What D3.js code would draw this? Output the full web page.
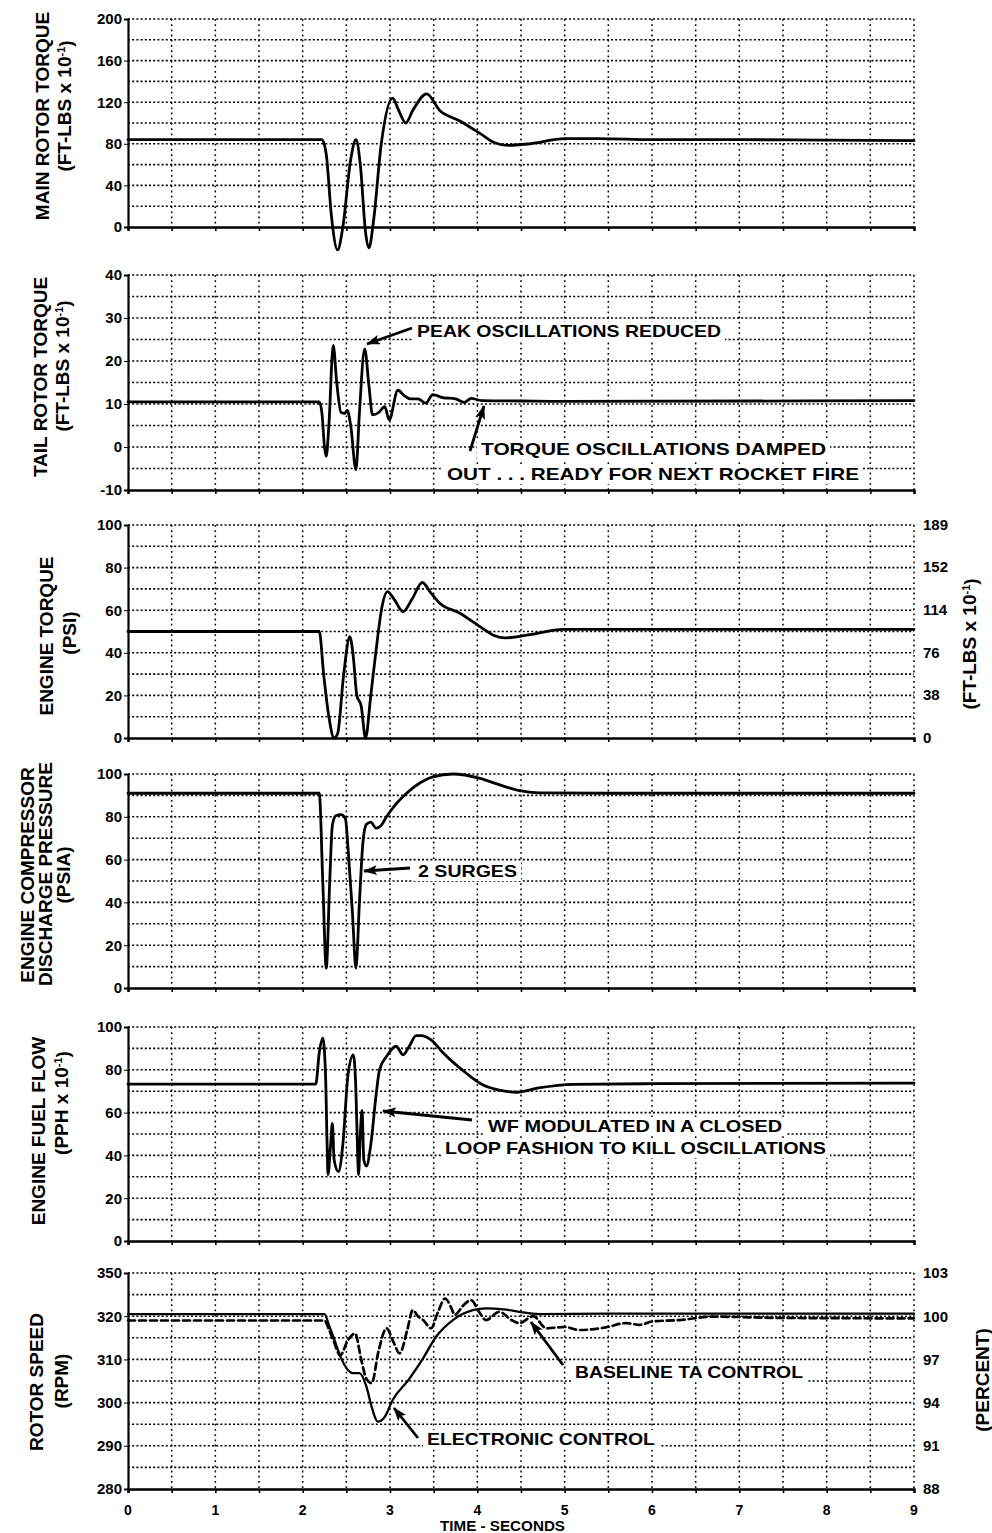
<!DOCTYPE html>
<html><head><meta charset="utf-8">
<script src="https://cdn.jsdelivr.net/npm/d3@7"></script>
<style>
body{margin:0;background:#fff}
svg{display:block}
text{font-family:"Liberation Sans",Arial,Helvetica,sans-serif;font-weight:bold;fill:#000}
</style>
</head><body>
<svg id="chart" width="992" height="1533"></svg>
<script>
// ---------------- DATA ----------------
const timeTicks = [0,1,2,3,4,5,6,7,8,9];
const timeTickLabels = ["0","1","2","3","4","5","6","7","8","9"];

// Panel 1 : main rotor torque
const mainRotorTime   = [0,2.22,2.27,2.33,2.40,2.46,2.55,2.61,2.66,2.72,2.76,2.81,2.90,3.03,3.10,3.18,3.26,3.42,3.57,3.80,4.03,4.20,4.35,4.60,5.00,5.40,6.00,7.00,8.00,9.00];
const mainRotorTorque = [84,84,70,10,-22,0,65,84,60,-5,-20,5,80,124,112,100,112,128,112,102,90,81,78.5,80,85,85,84,84,83.5,83];
const mainRotorTicks  = [0,40,80,120,160,200];

// Panel 2 : tail rotor torque
const tailRotorTime   = [0,2.19,2.22,2.25,2.27,2.30,2.35,2.39,2.44,2.48,2.51,2.55,2.61,2.65,2.71,2.76,2.80,2.87,2.94,2.99,3.09,3.16,3.23,3.32,3.41,3.49,3.60,3.75,3.85,3.93,4.05,4.50,5.00,9.00];
const tailRotorTorque = [10.5,10.5,8,0,-2.2,5,23.6,15,8,7.8,8.5,5,-5.3,8,22.8,14,7.5,8,9.4,6.3,13.2,12,11.2,11.2,10.2,12.2,11.5,11.2,10.4,11.3,10.8,10.7,10.6,10.8];
const tailRotorTicks  = [-10,0,10,20,30,40];

// Panel 3 : engine torque
const engineTorqueTime = [0,2.19,2.24,2.30,2.36,2.40,2.47,2.54,2.58,2.62,2.67,2.72,2.78,2.84,2.91,2.97,3.05,3.15,3.25,3.37,3.47,3.57,3.80,4.03,4.20,4.31,4.60,4.98,6.00,9.00];
const engineTorquePsi  = [50,50,30,10,0,2,30,47.6,38,20,15,0,20,41,62,68.7,65,59.3,65,73,68,63.3,58.6,52.3,48,47,48.5,51,51,51];
const engineTorqueTicks = [0,20,40,60,80,100];
const engineTorqueFtLbsTicks = [0,38,76,114,152,189];

// Panel 4 : compressor discharge pressure
const cdpTime = [0,2.19,2.23,2.27,2.31,2.34,2.38,2.44,2.49,2.52,2.57,2.61,2.65,2.69,2.73,2.78,2.84,2.90,2.96,3.07,3.19,3.35,3.49,3.72,4.03,4.25,4.48,4.71,5.50,9.00];
const cdpPsia = [91,91,50,9.3,50,76,80.5,81,79,65,35,9.3,40,68,76.5,77.5,74.7,76,80,86,91,96,98.7,100,98,95,92.2,91.2,91,91];
const cdpTicks = [0,20,40,60,80,100];

// Panel 5 : fuel flow
const fuelTime = [0,2.15,2.19,2.23,2.26,2.28,2.29,2.32,2.34,2.36,2.41,2.46,2.52,2.58,2.61,2.63,2.64,2.66,2.68,2.70,2.73,2.78,2.84,2.88,2.96,3.07,3.15,3.22,3.30,3.36,3.47,3.61,3.87,4.06,4.25,4.45,4.70,5.10,6.00,9.00];
const fuelFlow = [73.3,73.3,88,94.8,80,45,31,45,55,38,32.4,45,78,87,70,40,31,50,61,38,35,45,68,80,86.2,91,87,91,96,96,94,87.8,78.5,73,70.5,69.5,71.5,73.2,73.5,73.8];
const fuelTicks = [0,20,40,60,80,100];

// Panel 6 : rotor speed
const electronicTime = [0,2.25,2.30,2.35,2.44,2.52,2.58,2.65,2.73,2.79,2.86,2.94,3.03,3.21,3.38,3.53,3.72,3.95,4.10,4.30,4.48,4.71,5.50,9.00];
const electronicRpm  = [320.5,320.5,318,315.3,310.3,307.5,306.8,306.8,303.7,299,295.6,296.7,300.6,305.2,310.3,315.3,319.1,321.4,321.8,321.6,321,320.5,320.6,320.6];
const baselineTime = [0,2.25,2.30,2.35,2.43,2.52,2.60,2.67,2.73,2.79,2.87,2.96,3.04,3.11,3.20,3.26,3.32,3.38,3.47,3.55,3.63,3.70,3.74,3.84,3.93,4.02,4.10,4.25,4.40,4.48,4.64,4.79,5.00,5.17,5.47,5.70,5.86,6.01,6.31,6.69,7.50,9.00];
const baselineRpm  = [319,319,317,314.5,311,314.5,316,310,305.5,304.5,312,317.2,314,311.4,317,321.4,320,319.1,317.2,321,324.1,322,320.3,322.5,323.7,321,319.1,321,319,318.4,320,317.2,317.5,316.8,317.4,318.4,318,318.8,319.1,319.9,319.6,319.5];
const rotorTicks      = [280,290,300,310,320,330];
const rotorTickLabels = ["280","290","300","310","320","350"];
const percentTicks    = [88,91,94,97,100,103];

// ---------------- LAYOUT ----------------
const svg = d3.select("#chart");
const X0 = 128, X1 = 914;
const x = d3.scaleLinear().domain([0, 9]).range([X0, X1]);

const defs = svg.append("defs");
defs.append("marker").attr("id","arr").attr("markerUnits","userSpaceOnUse")
  .attr("viewBox","0 0 14 10").attr("refX",13).attr("refY",5)
  .attr("markerWidth",14).attr("markerHeight",10).attr("orient","auto")
  .append("path").attr("d","M0,0 L14,5 L0,10 L3,5 z").attr("fill","#000");

function labelLine(g, lx, cy, parts, size) {
  const t = g.append("text").attr("transform", `translate(${lx},${cy}) rotate(-90)`)
    .attr("text-anchor","middle").attr("dy","0.36em").style("font-size", size + "px");
  parts.forEach(p => {
    if (typeof p === "string") t.append("tspan").text(p);
    else t.append("tspan").attr("dy", p.dy).style("font-size", p.fs + "px").text(p.t);
  });
  return t;
}
const sup = (s) => [{t:"-1", dy:"-0.55em", fs:11}, {t:s, dy:"0.4em", fs:19}];

function panel(cfg) {
  const g = svg.append("g");
  const y = d3.scaleLinear().domain(cfg.domain).range([cfg.bottom, cfg.top]);
  const step = (cfg.domain[1] - cfg.domain[0]) / 10;
  const yGrid = d3.range(0, 11).map(i => cfg.domain[0] + i * step);
  const xGrid = d3.range(0, 19).map(i => i * 0.5);

  // dotted grid
  g.selectAll(".hg").data(yGrid.slice(1)).join("line")
    .attr("x1", X0).attr("x2", X1).attr("y1", d => y(d)).attr("y2", d => y(d))
    .attr("stroke","#000").attr("stroke-width",1.6).attr("stroke-dasharray","2,2.2");
  g.selectAll(".vg").data(xGrid.slice(1)).join("line")
    .attr("x1", d => x(d)).attr("x2", d => x(d)).attr("y1", cfg.top).attr("y2", cfg.bottom)
    .attr("stroke","#000").attr("stroke-width",1.5).attr("stroke-dasharray","1.8,3.4");

  // annotation background boxes
  (cfg.notes || []).forEach(n => {
    n.lines.forEach(l => {
      g.append("rect").attr("x", l.x - 4).attr("y", l.y - 15).attr("width", l.len + 8).attr("height", 19).attr("fill","#fff");
    });
  });

  // axes
  const xAxis = d3.axisBottom(x).tickValues(xGrid).tickSize(4).tickFormat("");
  g.append("g").attr("transform", `translate(0,${cfg.bottom})`).call(xAxis)
    .call(a => a.select(".domain").attr("stroke-width",2.4))
    .call(a => a.selectAll(".tick line").attr("stroke-width",1.6));
  const yAxis = d3.axisLeft(y).tickValues(cfg.ticks).tickSize(4)
    .tickFormat((d,i) => cfg.tickLabels ? cfg.tickLabels[i] : d);
  g.append("g").attr("transform", `translate(${X0},0)`).call(yAxis)
    .call(a => a.select(".domain").attr("stroke-width",2.2))
    .call(a => a.selectAll("text").attr("x",-6).style("font-size","15px")
      .style("font-family",'"Liberation Sans",Arial,sans-serif').style("font-weight","bold"));

  if (cfg.right) {
    const yr = d3.scaleLinear().domain(cfg.right.domain).range([cfg.bottom, cfg.top]);
    g.append("g").attr("transform", `translate(${X1},0)`)
      .call(d3.axisRight(yr).tickValues(cfg.right.ticks).tickSize(0))
      .call(a => a.select(".domain").remove())
      .call(a => a.selectAll("text").attr("x",9).style("font-size","15px")
        .style("font-family",'"Liberation Sans",Arial,sans-serif').style("font-weight","bold"));
    cfg.right.label(g);
  }

  // series
  cfg.series.forEach(s => {
    const pts = s.t.map((t, i) => [t, s.v[i]]);
    g.append("path").datum(pts)
      .attr("d", d3.line().x(d => x(d[0])).y(d => y(d[1])).curve(d3.curveMonotoneX))
      .attr("fill","none").attr("stroke","#000").attr("stroke-width", s.w || 2.8)
      .attr("stroke-linejoin","round").attr("stroke-linecap","round")
      .attr("stroke-dasharray", s.dash || null);
  });

  // annotations
  (cfg.notes || []).forEach(n => {
    n.lines.forEach(l => {
      g.append("text").attr("x", l.x).attr("y", l.y).attr("textLength", l.len)
        .attr("lengthAdjust","spacingAndGlyphs").style("font-size","17px").text(l.text);
    });
    if (n.arrow) {
      const a = n.arrow;
      g.append("line").attr("x1",a[0]).attr("y1",a[1]).attr("x2",a[2]).attr("y2",a[3])
        .attr("stroke","#000").attr("stroke-width",2.8).attr("marker-end","url(#arr)");
    }
  });

  cfg.label(g);
}

// Panel 1
panel({
  top: 19, bottom: 227, domain: [0, 200], ticks: mainRotorTicks,
  series: [{t: mainRotorTime, v: mainRotorTorque}],
  label: g => { labelLine(g, 42, 116, ["MAIN ROTOR TORQUE"], 19);
                labelLine(g, 64, 106, ["(FT-LBS x 10", ...sup(")")], 19); }
});
// Panel 2
panel({
  top: 275, bottom: 490, domain: [-10, 40], ticks: tailRotorTicks,
  series: [{t: tailRotorTime, v: tailRotorTorque}],
  notes: [
    {lines: [{text:"PEAK OSCILLATIONS REDUCED", x:417, y:337, len:304}], arrow:[412,328,367,344]},
    {lines: [{text:"TORQUE OSCILLATIONS DAMPED", x:481, y:455, len:345},
             {text:"OUT . . . READY FOR NEXT ROCKET FIRE", x:447, y:480, len:412}], arrow:[470,451,484,406]}
  ],
  label: g => { labelLine(g, 40, 377, ["TAIL ROTOR TORQUE"], 19);
                labelLine(g, 62, 366, ["(FT-LBS x 10", ...sup(")")], 19); }
});
// Panel 3
panel({
  top: 525, bottom: 738, domain: [0, 100], ticks: engineTorqueTicks,
  series: [{t: engineTorqueTime, v: engineTorquePsi}],
  right: {domain: [0, 189], ticks: engineTorqueFtLbsTicks,
          label: g => labelLine(g, 969, 644, ["(FT-LBS x 10", ...sup(")")], 19)},
  label: g => { labelLine(g, 46, 636, ["ENGINE TORQUE"], 19);
                labelLine(g, 69, 633, ["(PSI)"], 19); }
});
// Panel 4
panel({
  top: 774, bottom: 988, domain: [0, 100], ticks: cdpTicks,
  series: [{t: cdpTime, v: cdpPsia}],
  notes: [{lines: [{text:"2 SURGES", x:418, y:877, len:99}], arrow:[410,868,364,871]}],
  label: g => { labelLine(g, 27, 875, ["ENGINE COMPRESSOR"], 19);
                labelLine(g, 45, 874, ["DISCHARGE PRESSURE"], 19);
                labelLine(g, 63, 875, ["(PSIA)"], 19); }
});
// Panel 5
panel({
  top: 1027, bottom: 1241, domain: [0, 100], ticks: fuelTicks,
  series: [{t: fuelTime, v: fuelFlow}],
  notes: [{lines: [{text:"WF MODULATED IN A CLOSED", x:488, y:1132, len:294},
                   {text:"LOOP FASHION TO KILL OSCILLATIONS", x:445, y:1154, len:381}], arrow:[472,1120,383,1111]}],
  label: g => { labelLine(g, 38, 1131, ["ENGINE FUEL FLOW"], 19);
                labelLine(g, 61, 1103, ["(PPH x 10", ...sup(")")], 19); }
});
// Panel 6
panel({
  top: 1273, bottom: 1489, domain: [280, 330], ticks: rotorTicks, tickLabels: rotorTickLabels,
  series: [{t: electronicTime, v: electronicRpm, w: 2.3},
           {t: baselineTime, v: baselineRpm, w: 2.7, dash: "7,4"}],
  right: {domain: [88, 103], ticks: percentTicks,
          label: g => labelLine(g, 982, 1380, ["(PERCENT)"], 19)},
  notes: [{lines: [{text:"BASELINE TA CONTROL", x:575, y:1378, len:228}], arrow:[563,1365,531,1322]},
          {lines: [{text:"ELECTRONIC CONTROL", x:427, y:1445, len:228}], arrow:[418,1438,394,1408]}],
  label: g => { labelLine(g, 36, 1382, ["ROTOR SPEED"], 19);
                labelLine(g, 61, 1381, ["(RPM)"], 19); }
});

// time axis labels (bottom panel)
svg.append("g").selectAll("text").data(timeTicks).join("text")
  .attr("x", d => x(d)).attr("y", 1515).attr("text-anchor","middle")
  .style("font-size","14px").text((d,i) => timeTickLabels[i]);
svg.append("text").attr("x", 440).attr("y", 1531).attr("textLength",125)
  .attr("lengthAdjust","spacingAndGlyphs").style("font-size","14px").text("TIME - SECONDS");
</script>
</body></html>
